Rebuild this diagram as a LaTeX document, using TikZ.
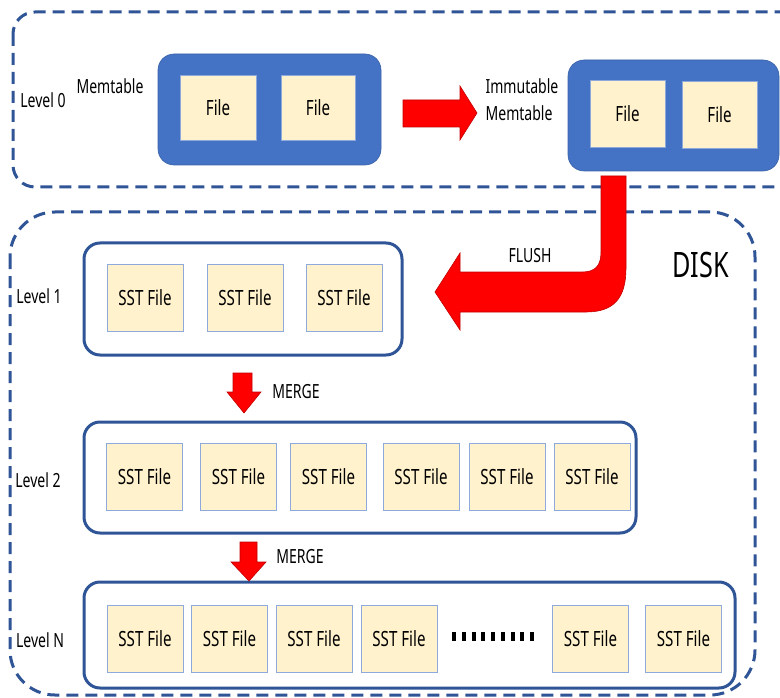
\documentclass[tikz,border=0pt]{standalone}
\usepackage{fontspec}
\setmainfont{Noto Sans}[FakeStretch=0.72]
\definecolor{boxblue}{HTML}{4472C4}
\definecolor{lineblue}{HTML}{2F5597}
\definecolor{filefill}{HTML}{FFF2CC}
\definecolor{fileedge}{HTML}{8EA9DB}
\definecolor{arrowred}{HTML}{FF0000}
\definecolor{arrowedge}{HTML}{C00000}
\begin{document}
\begin{tikzpicture}[x=1pt,y=-1pt,
  zone/.style={draw=lineblue, line width=3pt, dash pattern=on 12pt off 7pt},
  membox/.style={fill=boxblue, draw=boxblue!85!black, line width=0.6pt, rounded corners=16pt, inner sep=0pt},
  levelbox/.style={draw=lineblue, fill=white, line width=3pt, rounded corners=16pt, inner sep=0pt},
  filebox/.style={draw=fileedge, line width=0.8pt, fill=filefill, inner sep=0pt,
    minimum width=76pt, minimum height=67pt, font=\fontsize{21}{24}\selectfont},
  lbl/.style={inner sep=0pt, font=\fontsize{19.5}{23}\selectfont},
  blockarrow/.style={fill=arrowred, draw=arrowedge, line width=0.6pt, line join=miter}]
\path[use as bounding box, clip] (0,0) rectangle (780,698);

% memory and disk zones
\draw[zone, rounded corners=22pt] (13,12) rectangle (820,187);
\draw[zone, rounded corners=45pt] (10,212) rectangle (755,695);

% level 0: memtable and immutable memtable
\node[lbl] (l0) at (43,100) {Level 0};
\node[lbl] (memlbl) at (110,86) {Memtable};
\node[membox, minimum width=223pt, minimum height=111pt] (mem) at (269.5,109.5) {};
\node[filebox, minimum width=76pt, minimum height=65pt] (m1) at (218,107.5) {File};
\node[filebox, minimum width=74pt, minimum height=65pt] (m2) at (318,107.5) {File};

\node[lbl, align=left, font=\fontsize{19.5}{27}\selectfont] (immlbl) at (522,100) {Immutable\\Memtable};
\node[membox, minimum width=211pt, minimum height=111pt] (imm) at (673.5,115.5) {};
\node[filebox, minimum width=75pt] (i1) at (627.5,113.5) {File};
\node[filebox, minimum width=75pt] (i2) at (719.5,115) {File};

% level 1
\node[lbl] (l1) at (39,296) {Level 1};
\node[levelbox, minimum width=318pt, minimum height=112pt] (lv1) at (243,299) {};
\node[filebox] (a1) at (145,297.5) {SST File};
\node[filebox] (a2) at (245,298) {SST File};
\node[filebox] (a3) at (344,297.5) {SST File};

% level 2
\node[lbl] (l2) at (38,480) {Level 2};
\node[levelbox, minimum width=552pt, minimum height=111pt] (lv2) at (360,477.5) {};
\foreach \cx [count=\i] in {144.5,238.5,328.5,421,507,592}
  \node[filebox] (b\i) at (\cx,477) {SST File};

% level N
\node[lbl] (ln) at (40,640) {Level N};
\node[levelbox, minimum width=651pt, minimum height=106pt] (lvn) at (409.5,635) {};
\foreach \cx [count=\i] in {145,229.5,314,399,590.5,683.5}
  \node[filebox] (c\i) at (\cx,638.5) {SST File};
\coordinate (dotsL) at (452,636.5);
\coordinate (dotsR) at (535,636.5);
\draw[line width=8.5pt, dash pattern=on 4pt off 5.75pt] (dotsL) -- (dotsR);

% memtable becomes immutable
\draw[blockarrow] (403,100) -- (460,100) -- (460,86) -- (477,113) -- (460,140)
  -- (460,127) -- (403,127) -- cycle;

% flush to level 1
\draw[blockarrow] (601,176) -- (626,176) -- (626,268)
  .. controls (626,298) and (614,312) .. (586,312)
  -- (460,312) -- (460,330) -- (435,292) -- (460,253) -- (460,272)
  -- (582,272) .. controls (595,272) and (601,266) .. (601,252) -- cycle;
\node[lbl] (flush) at (530,256) {FLUSH};
\node[inner sep=0pt, font=\fontsize{35}{40}\selectfont] (disk) at (700.5,265.5) {DISK};

% merges between levels
\draw[blockarrow] (233,373) -- (252,373) -- (252,392) -- (261,392) -- (244,413)
  -- (227,392) -- (233,392) -- cycle;
\node[lbl] (merge1) at (296,392) {MERGE};
\draw[blockarrow] (240,542) -- (257,542) -- (257,562) -- (266,562) -- (249,581)
  -- (231,562) -- (240,562) -- cycle;
\node[lbl] (merge2) at (300,557) {MERGE};
\end{tikzpicture}
\end{document}
